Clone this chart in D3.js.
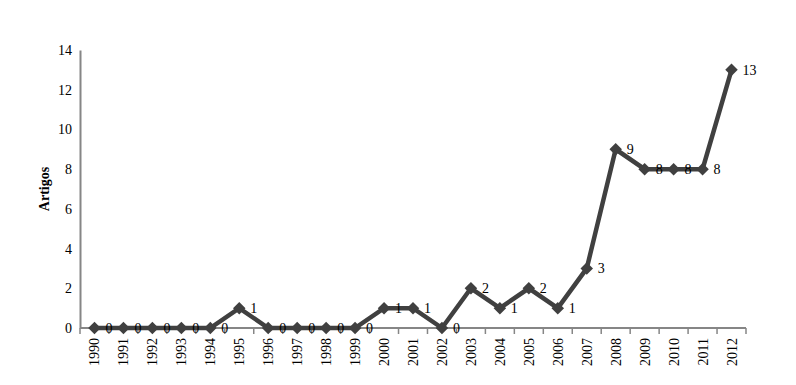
<!DOCTYPE html>
<html>
<head>
<meta charset="utf-8">
<script src="https://cdn.jsdelivr.net/npm/d3@7"></script>
<style>
  body { margin: 0; background: #fff; }
  svg text { font-family: "Times New Roman", "Liberation Serif", "DejaVu Serif", serif !important; fill: #000; }
</style>
</head>
<body>
<div id="chart"></div>
<script>
// Data
const years = ["1990", "1991", "1992", "1993", "1994", "1995", "1996", "1997", "1998", "1999", "2000", "2001",
    "2002", "2003", "2004", "2005", "2006", "2007", "2008", "2009", "2010", "2011", "2012"];
const artigos = [0, 0, 0, 0, 0, 1, 0, 0, 0, 0, 1, 1, 0, 2, 1, 2, 1, 3, 9, 8, 8, 8, 13];
const yTicks = [0, 2, 4, 6, 8, 10, 12, 14];

const width = 796, height = 385;
const margin = { top: 50, right: 50, bottom: 57, left: 80 };
const innerW = width - margin.left - margin.right;
const innerH = height - margin.top - margin.bottom;
const serif = '"Times New Roman", "Liberation Serif", "DejaVu Serif", serif';

const data = years.map((y, i) => ({ year: y, value: artigos[i] }));

const svg = d3.select('#chart').append('svg')
    .attr('width', width)
    .attr('height', height)
    .attr('font-family', serif);

const g = svg.append('g')
    .attr('transform', `translate(${margin.left},${margin.top})`);

// Scales
const xScale = d3.scaleBand().domain(years).range([0, innerW]);
const yScale = d3.scaleLinear().domain([0, 14]).range([innerH, 0]);
const xPos = d => xScale(d.year) + xScale.bandwidth() / 2;

// Y axis
const yAxis = d3.axisLeft(yScale).tickValues(yTicks).tickSize(0).tickPadding(8);
const yAxisG = g.append('g').call(yAxis).attr('font-family', serif);
yAxisG.select('.domain').attr('stroke', '#868686').attr('stroke-width', 2);
yAxisG.selectAll('text').attr('font-size', 14);

// X axis: ticks at band boundaries
const xAxisG = g.append('g').attr('transform', `translate(0,${innerH})`);
xAxisG.append('line')
    .attr('x1', 0).attr('x2', innerW)
    .attr('stroke', '#868686').attr('stroke-width', 2);
const boundaries = years.map(y => xScale(y)).concat([innerW]);
xAxisG.selectAll('.tick-mark')
    .data(boundaries)
    .join('line')
    .attr('class', 'tick-mark')
    .attr('x1', d => d).attr('x2', d => d)
    .attr('y1', 0).attr('y2', 6)
    .attr('stroke', '#868686').attr('stroke-width', 1.5);
xAxisG.selectAll('.xlabel')
    .data(years)
    .join('text')
    .attr('class', 'xlabel')
    .attr('transform', d => `translate(${xScale(d) + xScale.bandwidth() / 2 + 5},${10}) rotate(-90)`)
    .attr('text-anchor', 'end')
    .attr('font-size', 14)
    .text(d => d);

// Y axis title
svg.append('text')
    .attr('transform', `translate(49,${margin.top + innerH / 2}) rotate(-90)`)
    .attr('text-anchor', 'middle')
    .attr('font-size', 14)
    .attr('font-weight', 'bold')
    .text('Artigos');

// Line
const line = d3.line().x(xPos).y(d => yScale(d.value));
g.append('path')
    .datum(data)
    .attr('fill', 'none')
    .attr('stroke', '#404040')
    .attr('stroke-width', 4.5)
    .attr('stroke-linejoin', 'miter')
    .attr('d', line);

// Markers
g.selectAll('.marker')
    .data(data)
    .join('path')
    .attr('class', 'marker')
    .attr('d', d3.symbol().type(d3.symbolDiamond2).size(100))
    .attr('transform', d => `translate(${xPos(d)},${yScale(d.value)})`)
    .attr('fill', '#404040');

// Value labels
g.selectAll('.vlabel')
    .data(data)
    .join('text')
    .attr('class', 'vlabel')
    .attr('x', d => xPos(d) + 11)
    .attr('y', d => yScale(d.value) + 5)
    .attr('font-size', 14)
    .text(d => d.value);
</script>
</body>
</html>
